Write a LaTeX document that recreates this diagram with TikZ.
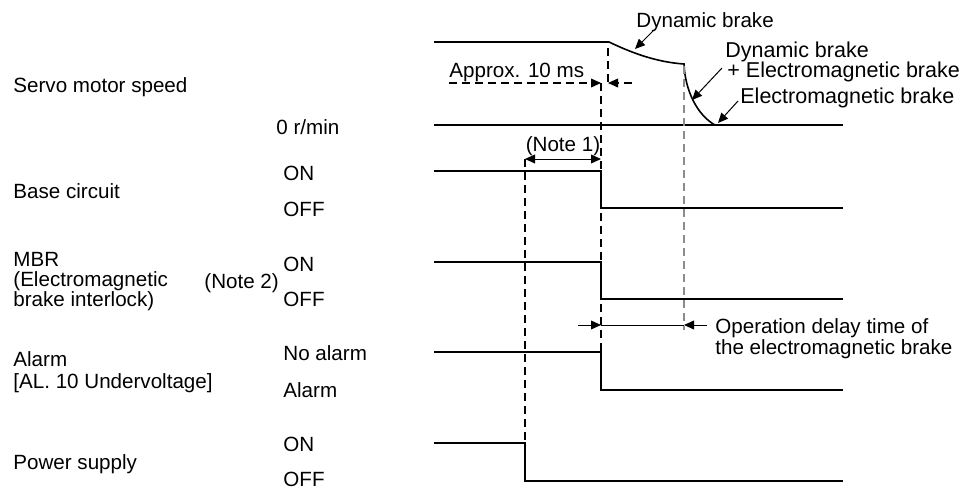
\documentclass[tikz,border=0pt]{standalone}
\usepackage{fontspec}
\setmainfont{Liberation Sans}
\usetikzlibrary{arrows.meta, positioning}
\tikzset{
  sig/.style={line width=0.8pt, line join=miter},
  dsh/.style={line width=0.55pt, dash pattern=on 4pt off 2.5pt},
  gdsh/.style={line width=0.8pt, dash pattern=on 4pt off 2.5pt, draw=black!45},
  txt/.style={font=\fontsize{10.3}{10}\selectfont, inner sep=0pt, anchor=base west, align=left},
  note/.style={txt, font=\fontsize{10.75}{10}\selectfont},
  tip/.style={-{Triangle[length=5pt, width=4.4pt]}, line width=0.5pt},
  dim/.style={{Triangle[length=5pt, width=4.4pt]}-{Triangle[length=5pt, width=4.4pt]}, line width=0.5pt}
}

\begin{document}
\begin{tikzpicture}[x=0.5pt, y=-0.5pt]
  \useasboundingbox (0,0) rectangle (966,488);

  % signal names
  \node[txt] (speed) at (13,92) {Servo motor speed};
  \node[txt] (base) at (13,198) {Base circuit};
  \node[txt, anchor=west] (mbr) at (13,282) {MBR\\(Electromagnetic\\brake interlock)};
  \node[txt, anchor=west] (alarm) at (13,372) {Alarm\\[1.3pt]{[AL. 10 Undervoltage]}};
  \node[txt] (power) at (13,469) {Power supply};

  % levels
  \node[txt] (zero) at (276,134) {0 r/min};
  \node[txt] (bon) at (283,180) {ON};
  \node[txt] (boff) at (283,216) {OFF};
  \node[txt] (note2) at (204,288) {(Note 2)};
  \node[txt] (mon) at (283,271) {ON};
  \node[txt] (moff) at (283,306) {OFF};
  \node[txt] (noal) at (283,360) {No alarm};
  \node[txt] (al) at (283,397) {Alarm};
  \node[txt] (pon) at (283,451) {ON};
  \node[txt] (poff) at (283,486) {OFF};

  % waveforms
  \draw[sig] (434,42) -- (609,42) .. controls (630,52) and (655,62) .. (684,64)
    .. controls (685,90) and (697,115) .. (715,125);
  \draw[sig] (434,125) -- (843,125);
  \draw[sig] (434,171) -- (601,171) -- (601,208) -- (843,208);
  \draw[sig] (434,262) -- (601,262) -- (601,299) -- (843,299);
  \draw[sig] (434,352) -- (601,352) -- (601,390) -- (843,390);
  \draw[sig] (434,443) -- (525,443) -- (525,481) -- (843,481);

  % timing marks
  \coordinate (pwr) at (525,159);
  \coordinate (boffc) at (601,159);
  \draw[dsh] (pwr) -- (525,443);
  \draw[dsh] (608,48) -- (608,83);
  \draw[dsh] (601,83) -- (601,352);
  \draw[gdsh] (684,66) -- (684,330);

  \draw[dim] (pwr) -- (boffc);
  \node[txt, anchor=base] (note1) at (563,151) {(Note 1)};

  \coordinate (msl) at (449,83);
  \coordinate (msa) at (601,83);
  \coordinate (msb) at (608,83);
  \coordinate (msr) at (632,83);
  \draw[tip, dsh] (msl) -- (msa);
  \draw[tip, dsh] (msr) -- (msb);
  \node[txt] (ms) at (449,77) {Approx. 10 ms};

  \coordinate (odl) at (578,325);
  \coordinate (oda) at (601,325);
  \coordinate (odb) at (684,325);
  \coordinate (odr) at (707,325);
  \draw[tip] (odl) -- (oda);
  \draw[line width=0.5pt] (oda) -- (odb);
  \draw[tip] (odr) -- (odb);
  \node[txt, anchor=north west, font=\fontsize{10.3}{8.7}\selectfont] (delay) at (715,318)
    {Operation delay time of\\the electromagnetic brake};

  % brake notes
  \node[txt] (db) at (636,27) {Dynamic brake};
  \node[note] (db2) at (725,57) {Dynamic brake};
  \node[note] (dbem) at (727,77) {+ Electromagnetic brake};
  \node[note] (em) at (740,103) {Electromagnetic brake};
  \coordinate (dbt) at (635,49);
  \coordinate (dbemt) at (692,100);
  \coordinate (emt) at (718,123);
  \draw[tip] (653,31) -- (dbt);
  \draw[tip] (722,68) -- (dbemt);
  \draw[tip] (738,101) -- (emt);
\end{tikzpicture}
\end{document}
